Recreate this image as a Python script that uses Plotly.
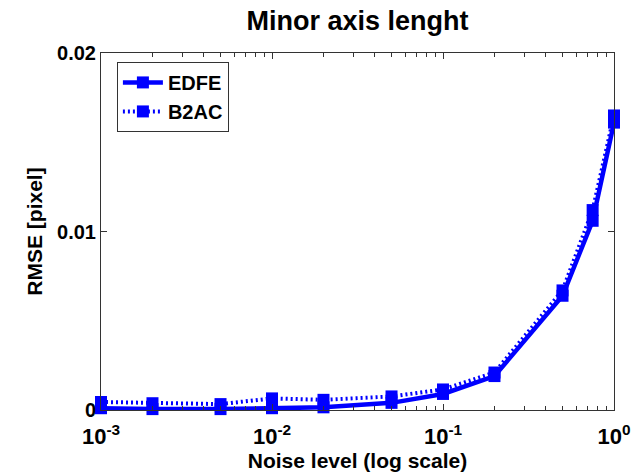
import plotly.graph_objects as go

noise = [0.001, 0.002, 0.005, 0.01, 0.02, 0.05, 0.1, 0.2, 0.5, 0.75, 1.0]
edfe = [0.0001, 0.00005, 0.00005, 0.0001, 0.00015, 0.0004, 0.0009, 0.0019, 0.0064, 0.0106, 0.0161]
b2ac = [0.00045, 0.00038, 0.00033, 0.00065, 0.00057, 0.00076, 0.00115, 0.0021, 0.0067, 0.0112, 0.0165]
x_ticks = [0.001, 0.01, 0.1, 1.0]
x_tick_text = ["10<sup>-3</sup>", "10<sup>-2</sup>", "10<sup>-1</sup>", "10<sup>0</sup>"]
y_ticks = [0, 0.01, 0.02]
y_tick_text = ["0", "0.01", "0.02"]

FONT = "Liberation Sans, Arial, sans-serif"
BLUE = "#0000ff"

fig = go.Figure()
fig.add_trace(go.Scatter(
    x=noise, y=edfe, name="EDFE", mode="lines+markers",
    line=dict(color=BLUE, width=4.5),
    marker=dict(symbol="square", size=12, color=BLUE),
    cliponaxis=False,
))
fig.add_trace(go.Scatter(
    x=noise, y=b2ac, name="B2AC", mode="lines+markers",
    line=dict(color=BLUE, width=4, dash="2px,3px"),
    marker=dict(symbol="square", size=12, color=BLUE),
    cliponaxis=False,
))

axis_common = dict(
    showline=True, linecolor="#333333", linewidth=1, mirror="allticks",
    ticks="inside", ticklen=6, tickcolor="#333333", showgrid=False, zeroline=False,
    automargin=False,
)

fig.update_layout(
    width=637, height=476,
    margin=dict(l=101, r=23, t=53, b=66),
    paper_bgcolor="white", plot_bgcolor="white",
    title=dict(text="Minor axis lenght", x=(101 + 614) / 2 / 637, xanchor="center",
               y=1 - 21 / 476, yanchor="middle",
               font=dict(family=FONT, size=27, color="black", weight="bold")),
    xaxis=dict(type="log", range=[-3, 0], tickvals=x_ticks, ticktext=x_tick_text,
               ticklabelstandoff=7,
               tickfont=dict(family=FONT, size=22, color="black", weight="bold"),
               minor=dict(ticks="inside", ticklen=4, tickcolor="#333333", dtick="D1", showgrid=False),
               title=dict(text="Noise level (log scale)", standoff=0,
                          font=dict(family=FONT, size=21, color="black", weight="bold")),
               **axis_common),
    yaxis=dict(range=[0, 0.02], tickvals=y_ticks, ticktext=y_tick_text,
               tickfont=dict(family=FONT, size=20, color="black", weight="bold"),
               title=dict(text="RMSE [pixel]", standoff=8,
                          font=dict(family=FONT, size=21, color="black", weight="bold")),
               **axis_common),
    legend=dict(x=0.031, y=0.975, xanchor="left", yanchor="top",
                bgcolor="white", bordercolor="#333333", borderwidth=1,
                font=dict(family=FONT, size=20, color="black", weight="bold"),
                tracegroupgap=0, itemwidth=40),
    showlegend=True,
)

fig.write_html("out.html")
